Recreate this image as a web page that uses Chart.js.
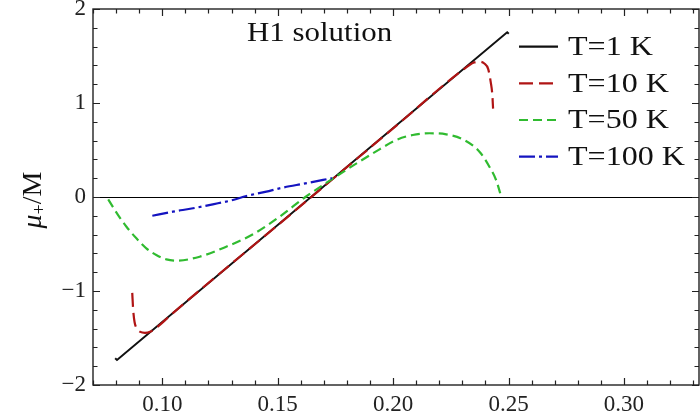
<!DOCTYPE html>
<html>
<head>
<meta charset="utf-8">
<script src="https://cdn.jsdelivr.net/npm/chart.js@4.4.0/dist/chart.umd.min.js"></script>
<style>
    html, body { margin: 0; padding: 0; background: #fff; }
    #wrap { width: 700px; height: 417px; }
</style>
</head>
<body>
<div id="wrap"><canvas id="muChart" width="700" height="417"></canvas></div>
<script>
/*------------------data--------------------------------------------*/
const seriesLabels = ['T=1 K', 'T=10 K', 'T=50 K', 'T=100 K'];

const t1X = [0.0796, 0.0804, 0.2494, 0.2501];
const t1Y = [-1.716, -1.734, 1.752, 1.736];

const t10X = [0.0870, 0.0874, 0.0880, 0.0890, 0.0905, 0.0925, 0.0950, 0.0975, 0.1050, 0.1500, 0.2000, 0.2300, 0.2350, 0.2375, 0.2395, 0.2412, 0.2423, 0.2430, 0.2433];
const t10Y = [-1.02, -1.20, -1.33, -1.40, -1.435, -1.445, -1.43, -1.39, -1.227, -0.300, 0.730, 1.348, 1.43, 1.44, 1.42, 1.36, 1.22, 1.08, 0.94];

const t50X = [0.0766, 0.0808, 0.0845, 0.0888, 0.0931, 0.0974, 0.1018, 0.1061, 0.1162, 0.1277, 0.1393, 0.1508, 0.1620, 0.1735, 0.1941, 0.2013, 0.2085, 0.2158, 0.2230, 0.2302, 0.2374, 0.2417, 0.2446, 0.2464];
const t50Y = [-0.025, -0.19, -0.316, -0.44, -0.546, -0.617, -0.663, -0.677, -0.635, -0.529, -0.397, -0.21, 0.0, 0.19, 0.507, 0.606, 0.66, 0.678, 0.667, 0.614, 0.482, 0.322, 0.181, 0.04];

const t100X = [0.0957, 0.1046, 0.1133, 0.1219, 0.1306, 0.1364, 0.1451, 0.1508, 0.1620, 0.1735];
const t100Y = [-0.199, -0.156, -0.12, -0.078, -0.032, 0.011, 0.057, 0.092, 0.145, 0.20];

const xTickValues = [0.10, 0.15, 0.20, 0.25, 0.30];
const xTickLabels = ['0.10', '0.15', '0.20', '0.25', '0.30'];
const yTickValues = [-2, -1, 0, 1, 2];
const yTickLabels = ['\u22122', '\u22121', '0', '1', '2'];

const plotTitle = 'H1 solution';

const colors = ['#111111', '#b01414', '#30bb30', '#1414c0'];
const dashes = [[], [14, 6], [9, 5], [16, 4, 3, 4]];

const serif = "'Liberation Serif', 'DejaVu Serif', serif";

function toPoints(xs, ys) {
    return xs.map((x, i) => ({ x: x, y: ys[i] }));
}

/*------------------frame, inward ticks, legend, titles------------------------*/
const framePlugin = {
    id: 'frameAndText',
    beforeDatasetsDraw(chart) {
        const ctx = chart.ctx;
        const a = chart.chartArea;
        const y0 = Math.round(chart.scales.y.getPixelForValue(0)) + 0.5;
        ctx.save();
        ctx.strokeStyle = '#000';
        ctx.lineWidth = 1;
        ctx.beginPath();
        ctx.moveTo(a.left, y0);
        ctx.lineTo(a.right, y0);
        ctx.stroke();
        ctx.restore();
    },
    afterDraw(chart) {
        const ctx = chart.ctx;
        const a = chart.chartArea;
        const xs = chart.scales.x;
        const ys = chart.scales.y;

        ctx.save();
        ctx.strokeStyle = '#222';
        ctx.lineWidth = 1.4;
        ctx.strokeRect(a.left, a.top, a.right - a.left, a.bottom - a.top);

        // x ticks every 0.01, longer on labelled ones
        ctx.lineWidth = 1.2;
        ctx.beginPath();
        for (let i = 7; i <= 33; i++) {
            const px = Math.round(xs.getPixelForValue(i / 100)) + 0.5;
            const len = (i % 5 === 0) ? 7 : 4.5;
            ctx.moveTo(px, a.bottom);
            ctx.lineTo(px, a.bottom - len);
            ctx.moveTo(px, a.top);
            ctx.lineTo(px, a.top + len);
        }
        // y ticks every 0.2
        for (let i = -10; i <= 10; i++) {
            const py = Math.round(ys.getPixelForValue(i / 5)) + 0.5;
            const len = (i % 5 === 0) ? 7 : 4.5;
            ctx.moveTo(a.left, py);
            ctx.lineTo(a.left + len, py);
            ctx.moveTo(a.right, py);
            ctx.lineTo(a.right - len, py);
        }
        ctx.stroke();

        // legend
        const rowY = [46.7, 83.3, 120, 156.7];
        seriesLabels.forEach((label, i) => {
            ctx.strokeStyle = colors[i];
            ctx.lineWidth = 2.2;
            ctx.setLineDash(dashes[i]);
            ctx.beginPath();
            ctx.moveTo(519, rowY[i]);
            ctx.lineTo(558, rowY[i]);
            ctx.stroke();
            ctx.setLineDash([]);

            ctx.save();
            ctx.translate(568, rowY[i]);
            ctx.scale(1.145, 1);
            ctx.fillStyle = '#111';
            ctx.font = '28px ' + serif;
            ctx.textBaseline = 'middle';
            ctx.textAlign = 'left';
            ctx.fillText(label, 0, 1);
            ctx.restore();
        });

        // title inside the plot
        ctx.save();
        ctx.translate(247, 32.5);
        ctx.scale(1.145, 1);
        ctx.fillStyle = '#111';
        ctx.font = '27px ' + serif;
        ctx.textBaseline = 'middle';
        ctx.textAlign = 'left';
        ctx.fillText(plotTitle, 0, 1);
        ctx.restore();

        // y axis title: mu_+ / M
        ctx.save();
        ctx.translate(33, 200);
        ctx.rotate(-Math.PI / 2);
        ctx.fillStyle = '#111';
        ctx.textBaseline = 'alphabetic';
        ctx.textAlign = 'left';
        const muFont = 'italic 28px ' + serif;
        const subFont = '18px ' + serif;
        const restFont = '28px ' + serif;
        ctx.font = muFont;
        const wMu = ctx.measureText('\u03bc').width;
        ctx.font = subFont;
        const wSub = ctx.measureText('+').width;
        ctx.font = restFont;
        const wRest = ctx.measureText('/M').width;
        let x = -(wMu + wSub + wRest) / 2;
        ctx.font = muFont;
        ctx.fillText('\u03bc', x, 8);
        x += wMu;
        ctx.font = subFont;
        ctx.fillText('+', x, 12);
        x += wSub;
        ctx.font = restFont;
        ctx.fillText('/M', x, 8);
        ctx.restore();

        ctx.restore();
    }
};

/*------------------build the chart------------------------*/
const ctx = document.getElementById('muChart').getContext('2d');
new Chart(ctx, {
    type: 'scatter',
    data: {
        datasets: [
            { label: seriesLabels[0], data: toPoints(t1X, t1Y), borderColor: colors[0], borderWidth: 2, borderDash: dashes[0], tension: 0, order: 4 },
            { label: seriesLabels[1], data: toPoints(t10X, t10Y), borderColor: colors[1], borderWidth: 2.2, borderDash: dashes[1], cubicInterpolationMode: 'monotone', order: 3 },
            { label: seriesLabels[2], data: toPoints(t50X, t50Y), borderColor: colors[2], borderWidth: 2.2, borderDash: dashes[2], cubicInterpolationMode: 'monotone', order: 2 },
            { label: seriesLabels[3], data: toPoints(t100X, t100Y), borderColor: colors[3], borderWidth: 2.2, borderDash: dashes[3], cubicInterpolationMode: 'monotone', order: 1 }
        ].map(ds => Object.assign(ds, { showLine: true, pointRadius: 0, fill: false, backgroundColor: ds.borderColor }))
    },
    options: {
        responsive: false,
        devicePixelRatio: 1,
        animation: false,
        layout: { padding: { top: 9, right: 1, left: 0, bottom: 0 } },
        plugins: {
            legend: { display: false },
            tooltip: { enabled: false }
        },
        scales: {
            x: {
                type: 'linear',
                min: 0.07,
                max: 0.3325,
                grid: { display: false, drawTicks: false },
                border: { display: false },
                afterFit: scale => { scale.height = 32; scale.paddingLeft = 0; scale.paddingRight = 0; },
                afterBuildTicks: scale => { scale.ticks = xTickValues.map(v => ({ value: v })); },
                ticks: {
                    padding: 6,
                    color: '#222',
                    font: { family: serif, size: 23 },
                    maxRotation: 0,
                    autoSkip: false,
                    callback: (v, i) => xTickLabels[i]
                }
            },
            y: {
                type: 'linear',
                min: -2,
                max: 2,
                grid: { display: false, drawTicks: false },
                border: { display: false },
                afterFit: scale => { scale.width = 93; scale.paddingTop = 0; scale.paddingBottom = 0; },
                afterBuildTicks: scale => { scale.ticks = yTickValues.map(v => ({ value: v })); },
                ticks: {
                    padding: 7,
                    color: '#222',
                    font: { family: serif, size: 23 },
                    autoSkip: false,
                    callback: (v, i) => yTickLabels[i]
                }
            }
        }
    },
    plugins: [framePlugin]
});
</script>
</body>
</html>
